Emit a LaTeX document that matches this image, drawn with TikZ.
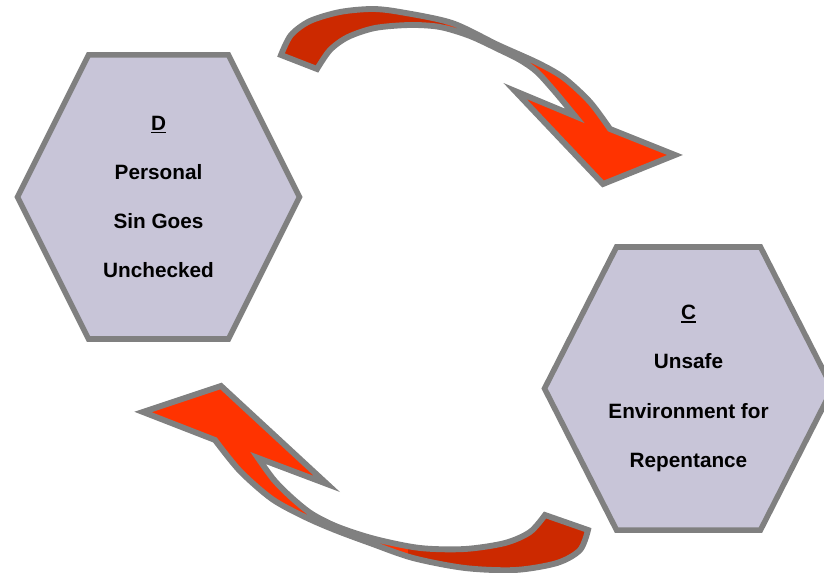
\documentclass[tikz,border=0pt]{standalone}
\usepackage{fontspec}
\setmainfont{Liberation Sans}
\definecolor{hexfill}{RGB}{200,197,216}
\definecolor{edgegray}{RGB}{128,128,128}
\definecolor{arrowfront}{RGB}{255,51,0}
\definecolor{arrowback}{RGB}{204,41,0}
\newcommand{\thickul}[1]{\setbox0\hbox{#1}\rlap{\rule[-2.6pt]{\wd0}{1.3pt}}\box0}
\begin{document}
\begin{tikzpicture}[x=0.03cm,y=-0.03cm,
  hexa/.style={fill=hexfill,draw=edgegray,line width=4.7pt,line join=miter},
  hextext/.style={align=center,text=black,
    font=\fontsize{17.7}{42}\selectfont\bfseries},
  bandedge/.style={draw=edgegray,line width=5pt,line join=miter}]
\useasboundingbox (0,0) rectangle (824,573);
\clip (0,0) rectangle (824,573);

% ---- hexagon D ----
\coordinate (dc) at (158.5,197);
\draw[hexa,shift={(158.5,197)}]
  (-141,0) -- (-70,-142) -- (70,-142) -- (141,0) -- (70,142) -- (-70,142) -- cycle;
\node[hextext] (dtext) at (dc) {\thickul{D}\\Personal\\Sin Goes\\Unchecked};

% ---- hexagon C ----
\coordinate (cc) at (688.5,388.5);
\draw[hexa,shift={(688.5,388.5)}]
  (-144,0) -- (-72,-141.5) -- (72,-141.5) -- (144,0) -- (72,141.5) -- (-72,141.5) -- cycle;
\node[hextext] (ctext) at (cc) {\thickul{C}\\Unsafe\\Environment for\\Repentance};

% ---- upper curved arrow (D towards C) ----
\def\toparrow{(281,55) -- plot[smooth] coordinates {(281,55) (291,35) (310,21) (340,12)
    (372,9) (400,12) (452,23) (498,45) (538,63) (564,78) (590,102) (610,129)}
  -- (675,155) -- (603,184) -- (515,91) -- (575,116)
  -- plot[smooth] coordinates {(575,116) (556,93) (537,72) (520,60) (500,50)
    (470,36) (440,27) (410,25) (375,28) (348,37) (330,50) (317,69)} -- cycle}
\fill[arrowfront] \toparrow;
\begin{scope}
  \clip (0,0) rectangle (445,200);
  \fill[arrowback] \toparrow;
\end{scope}
\draw[bandedge] \toparrow;

% ---- lower curved arrow (C towards D) ----
\def\botarrow{(143,412) -- (221,386) -- (327,484) -- (258,458)
  -- plot[smooth] coordinates {(258,458) (274,480) (292,498) (312,514) (338,527)
    (375,539) (420,548) (465,549) (505,543) (530,532) (545,515)}
  -- (588,530)
  -- plot[smooth] coordinates {(588,530) (580,550) (557,563) (515,570) (465,568)
    (413,558) (370,543) (335,530) (305,517) (272,499) (240,471) (215,440)} -- cycle}
\fill[arrowfront] \botarrow;
\begin{scope}
  \clip (408,380) rectangle (824,573);
  \fill[arrowback] \botarrow;
\end{scope}
\draw[bandedge] \botarrow;
\end{tikzpicture}
\end{document}
